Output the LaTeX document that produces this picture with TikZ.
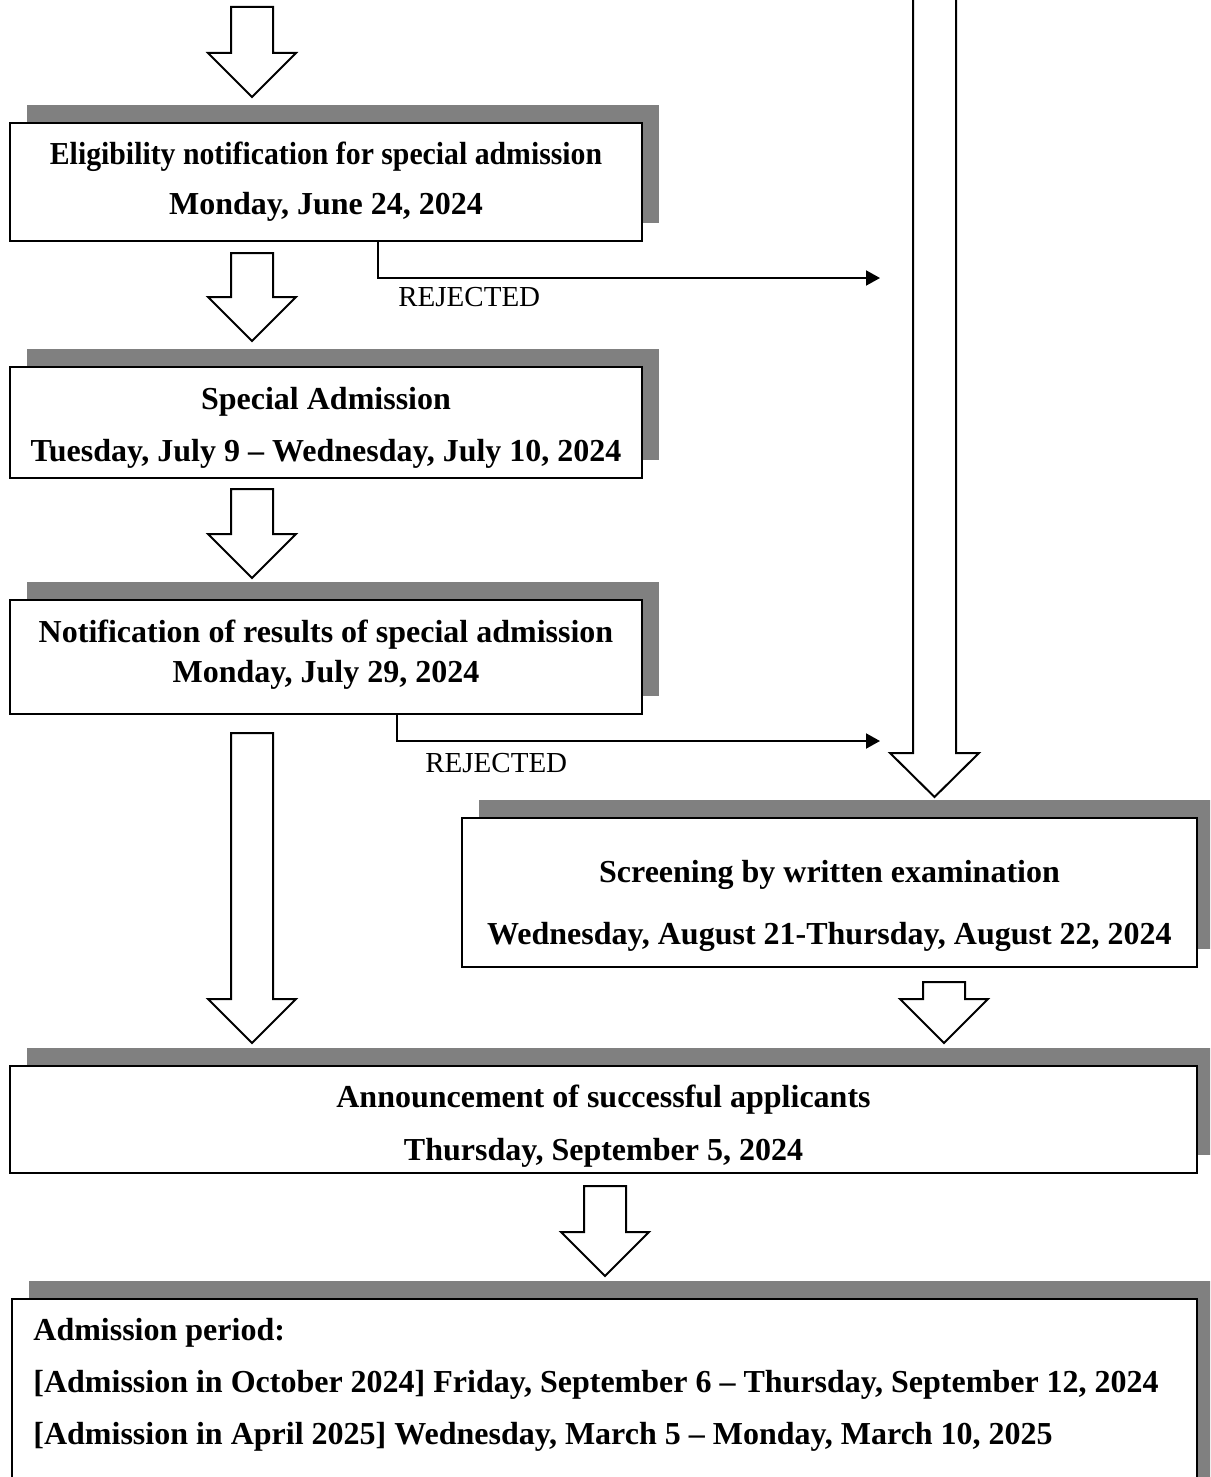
\documentclass[tikz,border=0pt]{standalone}
\usepackage{fontspec}
\setmainfont{Liberation Serif}
\usetikzlibrary{arrows.meta,shadows}
\definecolor{shadowgray}{HTML}{808080}
% hollow block arrow: centre x, top y, tip y
\newcommand{\blockarrow}[3]{%
  \draw[blk] (#1-21,#2) -- (#1+21,#2) -- (#1+21,#3-44) -- (#1+44,#3-44) -- (#1,#3)
    -- (#1-44,#3-44) -- (#1-21,#3-44) -- cycle;}
% invisible struts to push the text of a box down / up
\newcommand{\tophold}[1]{\rule{0pt}{#1}}
\newcommand{\bothold}[1]{\rule[-#1]{0pt}{#1}}

\begin{document}
\begin{tikzpicture}[x=0.5pt,y=-0.5pt,
  box/.style={draw=black,line width=1pt,fill=white,inner sep=0pt,align=center,
              font=\fontsize{16}{#1}\selectfont\bfseries,
              drop shadow={shadow xshift=8.5pt,shadow yshift=9pt,fill=shadowgray,
                           opacity=1,draw=none}},
  box/.default=25pt,
  blk/.style={draw=black,line width=1pt,fill=white,line join=miter},
  rej/.style={-{Triangle[length=7pt,width=7.5pt]},line width=1pt},
  lbl/.style={font=\fontsize{14.5}{16}\selectfont,inner sep=0pt,anchor=base west},
  per/.style={font=\fontsize{16}{18}\selectfont\bfseries,inner sep=0pt,anchor=base west}]
\useasboundingbox (0,0) rectangle (1210,1477);
\clip (0,0) rectangle (1210,1477);

% left column
\node[box=25pt,minimum width=316pt,minimum height=59pt] (elig) at (326,182)
  {\scalebox{0.93}[1]{Eligibility notification for special admission}\\Monday, June 24, 2024};
\node[box=26pt,minimum width=316pt,minimum height=55.5pt] (special) at (326,422.5)
  {\tophold{16pt}Special Admission\\Tuesday, July 9 -- Wednesday, July 10, 2024};
\node[box=20pt,minimum width=316pt,minimum height=57pt] (results) at (326,657)
  {Notification of results of special admission\\Monday, July 29, 2024\bothold{5.5pt}};

% right column and joint boxes
\node[box=31pt,minimum width=367.5pt,minimum height=74.5pt] (screen) at (829.5,892.5)
  {\tophold{25pt}Screening by written examination\\Wednesday, August 21-Thursday, August 22, 2024};
\node[box=26.5pt,minimum width=593.5pt,minimum height=53.5pt] (announce) at (603.5,1119.5)
  {\tophold{18pt}Announcement of successful applicants\\Thursday, September 5, 2024};
\node[box,minimum width=592.5pt,minimum height=100pt,anchor=north west] (period) at (11,1298) {};
\foreach \y/\lab [count=\i] in {1340/{Admission period:},
    1392/{[Admission in October 2024] Friday, September 6 -- Thursday, September 12, 2024},
    1444/{[Admission in April 2025] Wednesday, March 5 -- Monday, March 10, 2025}}
  {\node[per] (period\i) at (33,\y) {\lab};}

% block arrows
\foreach \x/\top/\tip in {252/7/97, 252/253/341, 252/489/578, 252/733/1043,
                          944/982/1043, 605/1186/1276}
  {\blockarrow{\x}{\top}{\tip}}
\draw[blk] (913,-2) -- (913,753) -- (890,753) -- (934.5,797) -- (979,753)
  -- (956,753) -- (956,-2);

% rejected branches
\coordinate (rejA) at (880,278);
\coordinate (rejB) at (880,741);
\draw[rej] ([xshift=26pt]elig.south) |- (rejA);
\draw[rej] ([xshift=35.5pt]results.south) |- (rejB);
\node[lbl] (rejlabA) at (398,306) {REJECTED};
\node[lbl] (rejlabB) at (425,772) {REJECTED};
\end{tikzpicture}
\end{document}
